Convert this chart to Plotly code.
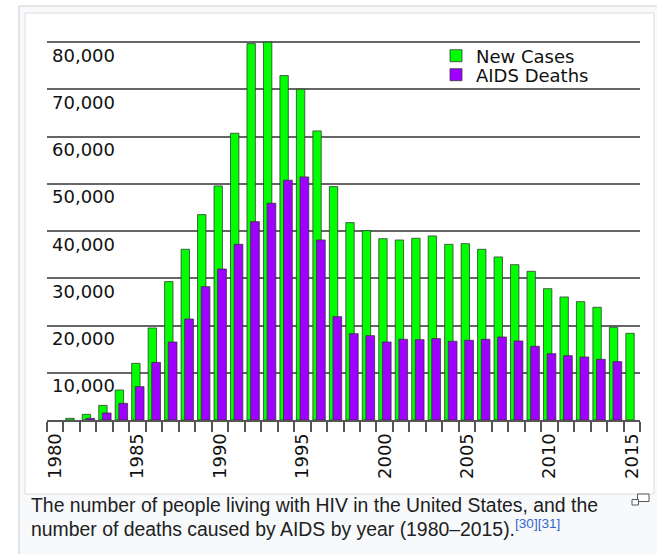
import plotly.graph_objects as go

# ---- data ----
years = list(range(1980, 2016))
new_cases = [None, 360, 1200, 3100, 6350, 12000, 19490, 29300, 36150, 43490,
             49560, 60720, 79700, 80000, 72930, 70040, 61210, 49420, 41800, 40100,
             38400, 38120, 38480, 38970, 37200, 37340, 36150, 34520, 32890, 31490,
             27810, 26050, 25060, 23870, 19630, 18360]
aids_deaths = [None, None, 350, 1480, 3530, 7060, 12200, 16520, 21390, 28240,
               31980, 37200, 42000, 45900, 50770, 51470, 38120, 21880, 18280, 17860,
               16520, 17090, 17010, 17230, 16670, 16880, 17090, 17580, 16730, 15610,
               14040, 13620, 13340, 12850, 12350, None]
series_names = ["New Cases", "AIDS Deaths"]
y_ticks = [10000, 20000, 30000, 40000, 50000, 60000, 70000, 80000]
x_label_years = [1980, 1985, 1990, 1995, 2000, 2005, 2010, 2015]
caption_lines = [
    "The number of people living with HIV in the United States, and the",
    "number of deaths caused by AIDS by year (1980\u20132015)."
]
caption_refs = "[30][31]"

W, H = 657, 554
ML, MR, MT, MB = 47, 17, 41, 134
PW, PH = W - ML - MR, H - MT - MB


def px(x):
    return (x - ML) / PW


def py(y):
    return (H - MB - y) / PH


GREEN = "#00ff00"
PURPLE = "#a000ff"
EDGE = "rgba(50,50,50,0.75)"
GRID = "#666666"
CHART_FONT = "DejaVu Sans"
LEG_FONT = dict(family=CHART_FONT, size=18, color="#111111")

fig = go.Figure()
fig.add_trace(go.Bar(
    x=years, y=new_cases, name=series_names[0], legend="legend",
    width=0.51, offset=-0.36,
    marker=dict(color=GREEN, line=dict(color=EDGE, width=1)),
))
fig.add_trace(go.Bar(
    x=years, y=aids_deaths, name=series_names[1], legend="legend2",
    width=0.53, offset=-0.14,
    marker=dict(color=PURPLE, line=dict(color=EDGE, width=1)),
))

annotations = []
for v in y_ticks:
    annotations.append(dict(
        x=px(50), xref="paper", y=v, yref="y",
        text=f"{v:,}", showarrow=False, xanchor="left", yanchor="middle",
        yshift=-13, font=dict(family=CHART_FONT, size=18, color="#111111"),
    ))

cap_font = dict(family="Liberation Sans, Arial, sans-serif", size=19.4, color="#202122")
annotations.append(dict(
    x=px(29), xref="paper", y=py(505), yref="paper", text=caption_lines[0],
    showarrow=False, xanchor="left", yanchor="middle", font=cap_font,
))
annotations.append(dict(
    x=px(29), xref="paper", y=py(528), yref="paper",
    text=caption_lines[1] + "<sup><span style='color:#3366cc'>" + caption_refs + "</span></sup>",
    showarrow=False, xanchor="left", yanchor="middle", font=cap_font,
))

shapes = [
    dict(type="rect", xref="paper", yref="paper", layer="below",
         x0=px(19), x1=px(700), y0=py(6), y1=py(600),
         fillcolor="#f8f9fa", line=dict(color="#c8ccd1", width=1)),
    dict(type="rect", xref="paper", yref="paper", layer="below",
         x0=px(25), x1=px(654), y0=py(13), y1=py(494),
         fillcolor="#ffffff", line=dict(color="#dadde1", width=1)),
    # top gridline (at the max tick value, through the y axis)
    dict(type="line", xref="paper", yref="y", layer="below",
         x0=0, x1=1, y0=max(y_ticks), y1=max(y_ticks),
         line=dict(color=GRID, width=1.6)),
    dict(type="rect", xref="paper", yref="paper",
         x0=px(637.5), x1=px(649), y0=py(494), y1=py(501.5),
         fillcolor="#ffffff", line=dict(color="#54595d", width=1)),
    dict(type="rect", xref="paper", yref="paper",
         x0=px(632), x1=px(638.5), y0=py(499.5), y1=py(505),
         fillcolor="#ffffff", line=dict(color="#54595d", width=1)),
]

leg_common = dict(xanchor="left", yanchor="middle", xref="paper", yref="paper",
                  font=LEG_FONT, bgcolor="rgba(0,0,0,0)", borderwidth=0,
                  itemwidth=30, tracegroupgap=0)

fig.update_layout(
    width=W, height=H,
    margin=dict(l=ML, r=MR, t=MT, b=MB, pad=0),
    paper_bgcolor="#ffffff",
    plot_bgcolor="rgba(0,0,0,0)",
    barmode="overlay",
    showlegend=True,
    legend=dict(x=px(436), y=py(56), **leg_common),
    legend2=dict(x=px(436), y=py(75), **leg_common),
    annotations=annotations,
    shapes=shapes,
    font=dict(family=CHART_FONT, size=18, color="#111111"),
)

fig.update_xaxes(
    range=[1979.5, 2015.5],
    tickmode="array", tickvals=x_label_years,
    ticktext=[str(y) for y in x_label_years],
    tickangle=-90, ticks="", ticklabelstandoff=4,
    tickfont=dict(family=CHART_FONT, size=18, color="#111111"),
    minor=dict(ticks="outside", tick0=1979.5, dtick=1, ticklen=10,
               tickwidth=1.5, tickcolor="#555555", showgrid=False),
    showline=True, linecolor="#555555", linewidth=2,
    showgrid=False, zeroline=False,
)
fig.update_yaxes(
    range=[0, 80250],
    tickmode="array", tickvals=y_ticks, showticklabels=False,
    showgrid=True, gridcolor=GRID, gridwidth=1.6,
    zeroline=False, showline=False,
)

fig.write_html(
    "out.html",
    config={"displayModeBar": False},
    post_script="document.body.style.margin='0';document.body.style.overflow='hidden';",
)
